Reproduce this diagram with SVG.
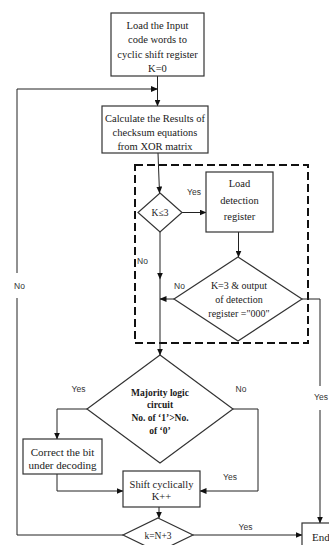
<svg xmlns="http://www.w3.org/2000/svg" width="329" height="545" viewBox="0 0 329 545">
<defs>
<marker id="ah" markerWidth="7" markerHeight="6" refX="6.5" refY="3" orient="auto" markerUnits="userSpaceOnUse">
<path d="M0,0 L7,3 L0,6 Z" fill="#111"/>
</marker>
<style>
.box{fill:#fff;stroke:#333;stroke-width:1.2}
.nt{font-family:"Liberation Serif","Times New Roman","DejaVu Serif",serif;font-size:10.5px;fill:#1a1a1a;text-anchor:middle}
.bt{font-family:"Liberation Serif","Times New Roman","DejaVu Serif",serif;font-size:9.5px;font-weight:bold;fill:#1a1a1a;text-anchor:middle}
.lb{font-family:"Liberation Sans",Arial,sans-serif;font-size:8.5px;fill:#333;text-anchor:middle}
.cn{fill:none;stroke:#222;stroke-width:1}
.ar{fill:none;stroke:#222;stroke-width:1;marker-end:url(#ah)}
</style>
</defs>
<rect width="329" height="545" fill="#fff"/>

<g id="dashed-region">
<rect x="135" y="165" width="173" height="178" fill="none" stroke="#111" stroke-width="2" stroke-dasharray="8 4"/>
</g>

<g id="connectors">
<line class="ar" x1="157.5" y1="76" x2="157.5" y2="106"/>
<line class="ar" x1="158" y1="153" x2="159.5" y2="193"/>
<line class="ar" x1="182" y1="212.5" x2="206" y2="212.5"/>
<line class="ar" x1="238.5" y1="232" x2="238.5" y2="257"/>
<line class="ar" x1="160" y1="232" x2="160" y2="279"/>
<line class="ar" x1="160" y1="279" x2="160" y2="355"/>
<line class="ar" x1="174" y1="299" x2="160" y2="299"/>
<polyline class="ar" points="302,299 320,299 320,523"/>
<polyline class="ar" points="87,409 57,409 57,439"/>
<polyline class="ar" points="57,474 57,491 123,491"/>
<polyline class="ar" points="233,409 258,409 258,491 200,491"/>
<line class="ar" x1="159" y1="507" x2="159" y2="518"/>
<line class="ar" x1="193" y1="535" x2="302" y2="535"/>
<polyline class="ar" points="123,535 17,535 17,89 157.5,89"/>
<rect x="10" y="273" width="16" height="25" fill="#fff"/>
<rect x="313" y="386" width="16" height="24" fill="#fff"/>
<text class="lb" x="19.5" y="289">No</text>
<text class="lb" x="321" y="400">Yes</text>
<text class="lb" x="194" y="195">Yes</text>
<text class="lb" x="142.5" y="264">No</text>
<text class="lb" x="179.5" y="289">No</text>
<text class="lb" x="78.5" y="392">Yes</text>
<text class="lb" x="241" y="392">No</text>
<text class="lb" x="230" y="480">Yes</text>
<text class="lb" x="245.5" y="530">Yes</text>
</g>

<g id="load-input">
<rect class="box" x="111" y="13" width="93" height="63"/>
<text class="nt" x="157.5" y="28.5">Load the Input</text>
<text class="nt" x="157.5" y="43">code words to</text>
<text class="nt" x="157.5" y="57.5">cyclic shift register</text>
<text class="nt" x="157.5" y="72">K=0</text>
</g>

<g id="calculate">
<rect class="box" x="102" y="106" width="106" height="47"/>
<text class="nt" x="155" y="121.5">Calculate the Results of</text>
<text class="nt" x="155" y="135.5">checksum equations</text>
<text class="nt" x="155" y="149.5">from XOR matrix</text>
</g>

<g id="k-le-3">
<polygon class="box" points="160,193 182,212.5 160,232 138,212.5"/>
<text class="nt" x="160" y="216" style="font-size:9.5px">K≤3</text>
</g>

<g id="load-detection">
<rect class="box" x="206" y="172" width="67" height="60"/>
<text class="nt" x="239.5" y="186.5">Load</text>
<text class="nt" x="239.5" y="203.5">detection</text>
<text class="nt" x="239.5" y="219.5">register</text>
</g>

<g id="k-eq-3">
<polygon class="box" points="238,257 302,299 238,341 174,299"/>
<text class="nt" x="239" y="288.5" style="font-size:10px">K=3 &amp; output</text>
<text class="nt" x="239" y="302.5" style="font-size:10px">of detection</text>
<text class="nt" x="239" y="316.5" style="font-size:10px">register ="000"</text>
</g>

<g id="majority">
<polygon class="box" points="160,355 233,409 160,463 87,409"/>
<text class="bt" x="160" y="395.5">Majority logic</text>
<text class="bt" x="160" y="408">circuit</text>
<text class="bt" x="160" y="421">No. of ‘1’&gt;No.</text>
<text class="bt" x="160" y="433.5">of ‘0’</text>
</g>

<g id="correct">
<rect class="box" x="23" y="439" width="79" height="35"/>
<text class="nt" x="62.5" y="455.5" style="font-size:11px">Correct the bit</text>
<text class="nt" x="62.5" y="468.5" style="font-size:11px">under decoding</text>
</g>

<g id="shift">
<rect class="box" x="123" y="471" width="77" height="36"/>
<text class="nt" x="161.5" y="487.5">Shift cyclically</text>
<text class="nt" x="161.5" y="500">K++</text>
</g>

<g id="k-eq-n3">
<polygon class="box" points="158,518 193,535 158,552 123,535"/>
<text class="nt" x="158" y="538.5" style="font-size:9.5px">k=N+3</text>
</g>

<g id="end">
<rect class="box" x="302" y="523" width="40" height="40"/>
<text class="nt" x="312" y="541" style="text-anchor:start;font-size:11px">End</text>
</g>
</svg>
